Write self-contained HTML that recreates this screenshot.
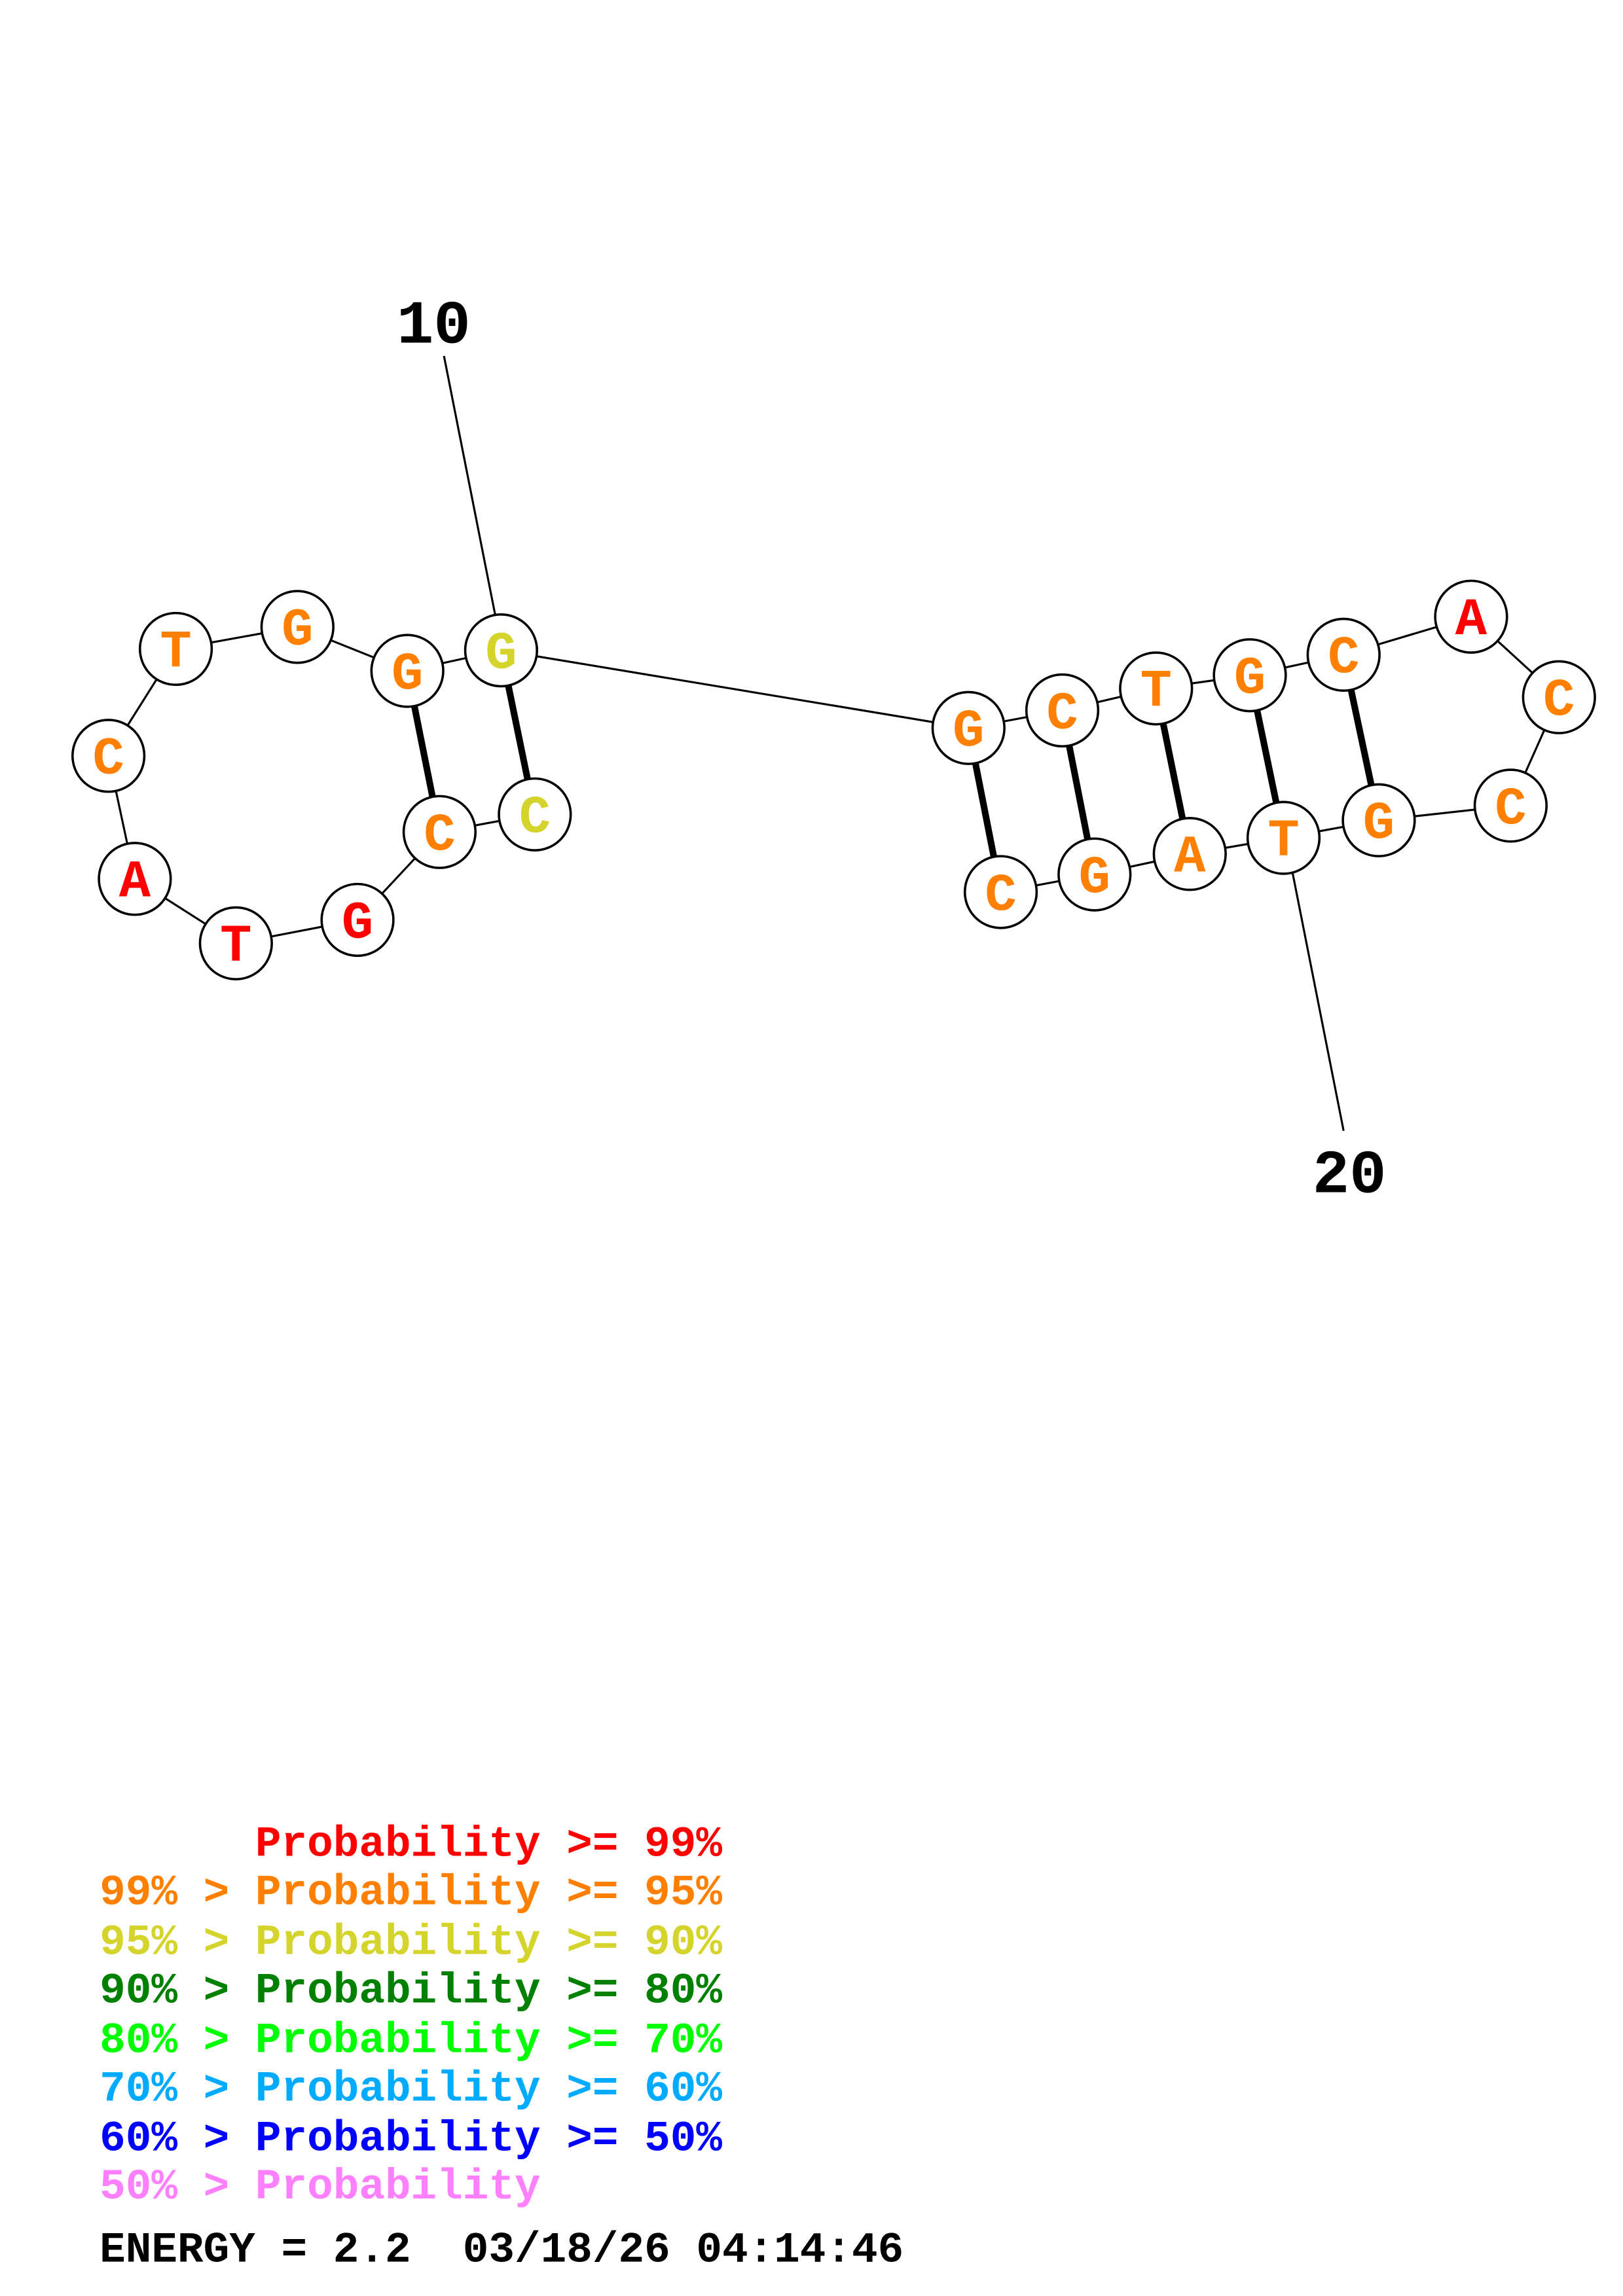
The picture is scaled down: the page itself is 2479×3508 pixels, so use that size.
<!DOCTYPE html>
<html><head><meta charset="utf-8"><style>
html,body{margin:0;padding:0;background:#fff;}
svg{display:block;}
text{font-family:"Liberation Mono","DejaVu Sans Mono",monospace;font-weight:bold;}
</style></head><body>
<svg width="2479" height="3508" viewBox="0 0 2479 3508" xmlns="http://www.w3.org/2000/svg">
<rect width="2479" height="3508" fill="#fff"/>
<g transform="scale(2.238)">
<g stroke="#000" stroke-width="1.4" fill="none">
<polyline points="365,556 300,568 244,628 161,644 92,600 74,516 120,443 203,428 278,458 342,444 661,497 725,485 789,470 853,461 917,447 1004,421 1064,476 1031,550 941,560 876,572 812,583 747,597 683,609"/>
<line x1="303" y1="243" x2="338" y2="420"/>
<line x1="882" y1="595" x2="917" y2="772"/>
</g>
<g stroke="#000" stroke-width="4.5">
<line x1="342" y1="444" x2="365" y2="556"/>
<line x1="278" y1="458" x2="300" y2="568"/>
<line x1="661" y1="497" x2="683" y2="609"/>
<line x1="725" y1="485" x2="747" y2="597"/>
<line x1="789" y1="470" x2="812" y2="583"/>
<line x1="853" y1="461" x2="876" y2="572"/>
<line x1="917" y1="447" x2="941" y2="560"/>
</g>
<g stroke="#000" stroke-width="1.6" fill="#fff">
<circle cx="342" cy="444" r="24.5"/><circle cx="278" cy="458" r="24.5"/><circle cx="203" cy="428" r="24.5"/>
<circle cx="120" cy="443" r="24.5"/><circle cx="74" cy="516" r="24.5"/><circle cx="92" cy="600" r="24.5"/>
<circle cx="161" cy="644" r="24.5"/><circle cx="244" cy="628" r="24.5"/><circle cx="300" cy="568" r="24.5"/>
<circle cx="365" cy="556" r="24.5"/>
<circle cx="661" cy="497" r="24.5"/><circle cx="725" cy="485" r="24.5"/><circle cx="789" cy="470" r="24.5"/>
<circle cx="853" cy="461" r="24.5"/><circle cx="917" cy="447" r="24.5"/><circle cx="1004" cy="421" r="24.5"/>
<circle cx="1064" cy="476" r="24.5"/><circle cx="1031" cy="550" r="24.5"/><circle cx="941" cy="560" r="24.5"/>
<circle cx="876" cy="572" r="24.5"/><circle cx="812" cy="583" r="24.5"/><circle cx="747" cy="597" r="24.5"/>
<circle cx="683" cy="609" r="24.5"/>
</g>
<g font-size="36" text-anchor="middle" fill="#FF8000">
<text x="342" y="456" fill="#D4D42C">G</text>
<text x="278" y="470">G</text>
<text x="203" y="440">G</text>
<text x="120" y="455">T</text>
<text x="74" y="528">C</text>
<text x="92" y="612" fill="#FF0000">A</text>
<text x="161" y="656" fill="#FF0000">T</text>
<text x="244" y="640" fill="#FF0000">G</text>
<text x="300" y="580">C</text>
<text x="365" y="568" fill="#D4D42C">C</text>
<text x="661" y="509">G</text>
<text x="725" y="497">C</text>
<text x="789" y="482">T</text>
<text x="853" y="473">G</text>
<text x="917" y="459">C</text>
<text x="1004" y="433" fill="#FF0000">A</text>
<text x="1064" y="488">C</text>
<text x="1031" y="562">C</text>
<text x="941" y="572">G</text>
<text x="876" y="584">T</text>
<text x="812" y="595">A</text>
<text x="747" y="609">G</text>
<text x="683" y="621">C</text>
</g>
<g font-size="42" text-anchor="middle" fill="#000">
<text x="296" y="234">10</text>
<text x="921" y="814">20</text>
</g>
<g font-size="29.5">
<text x="68" y="1267" fill="#FF0000" xml:space="preserve">      Probability &gt;= 99%</text>
<text x="68" y="1300" fill="#FF8000" xml:space="preserve">99% &gt; Probability &gt;= 95%</text>
<text x="68" y="1334" fill="#D4D42C" xml:space="preserve">95% &gt; Probability &gt;= 90%</text>
<text x="68" y="1367" fill="#008000" xml:space="preserve">90% &gt; Probability &gt;= 80%</text>
<text x="68" y="1401" fill="#00FF00" xml:space="preserve">80% &gt; Probability &gt;= 70%</text>
<text x="68" y="1434" fill="#00AAFF" xml:space="preserve">70% &gt; Probability &gt;= 60%</text>
<text x="68" y="1468" fill="#0000FF" xml:space="preserve">60% &gt; Probability &gt;= 50%</text>
<text x="68" y="1501" fill="#FF80FF" xml:space="preserve">50% &gt; Probability</text>
<text x="68" y="1544" fill="#000" xml:space="preserve">ENERGY = 2.2  03/18/26 04:14:46</text>
</g>
</g>
</svg>
</body></html>
